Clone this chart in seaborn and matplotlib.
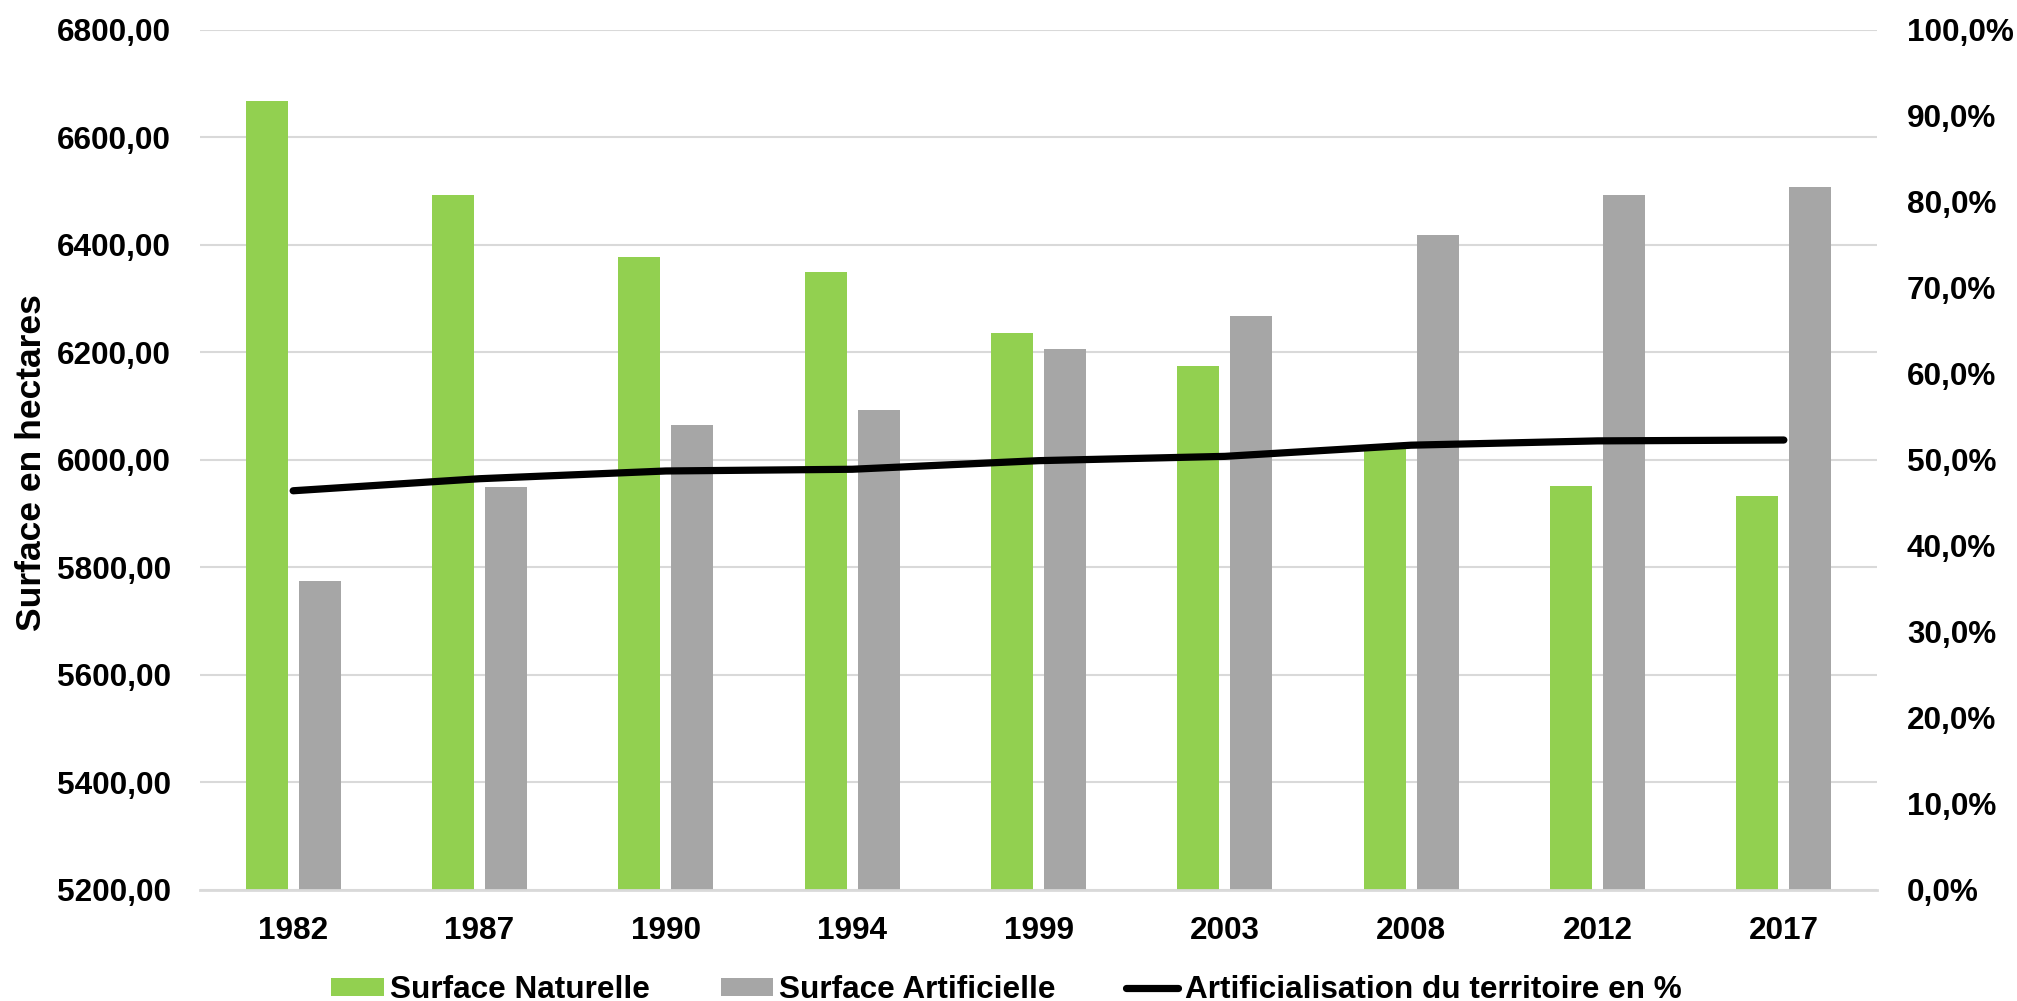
#!/usr/bin/env python3
"""
Surface naturelle / artificielle par année, avec le taux d'artificialisation
"""

import pandas as pd
import numpy as np
import matplotlib
matplotlib.use("Agg")
import matplotlib.pyplot as plt
from matplotlib.ticker import FuncFormatter, MultipleLocator
import seaborn as sns

# Data
years = ['1982', '1987', '1990', '1994', '1999', '2003', '2008', '2012', '2017']
naturelle = [6668, 6492, 6378, 6349, 6236, 6175, 6024, 5951, 5933]
artificielle = [5774, 5949, 6064, 6093, 6206, 6267, 6418, 6492, 6508]
artif_pct = [46.4, 47.8, 48.7, 48.9, 49.9, 50.4, 51.7, 52.2, 52.3]

LABEL_NAT = 'Surface Naturelle'
LABEL_ART = 'Surface Artificielle'
LABEL_PCT = 'Artificialisation du territoire en %'

GREEN = '#92D050'
GREY = '#A6A6A6'
GRID = '#D9D9D9'
FS = 22.7

sns.set_style("white")
plt.rcParams['font.family'] = ['Liberation Sans', 'DejaVu Sans']
plt.rcParams['font.weight'] = 'bold'
plt.rcParams['text.color'] = 'black'
plt.rcParams['xtick.color'] = 'black'
plt.rcParams['ytick.color'] = 'black'
plt.rcParams['axes.labelcolor'] = 'black'

df = pd.DataFrame({
    'year': years * 2,
    'surface': naturelle + artificielle,
    'type': [LABEL_NAT] * len(years) + [LABEL_ART] * len(years),
})

fig = plt.figure(figsize=(20.17, 10.01), dpi=100)
ax = fig.add_axes([0.09916, 0.11109, 0.83143, 0.85914])

sns.barplot(data=df, x='year', y='surface', hue='type',
            palette=[GREEN, GREY], saturation=1, width=0.568, gap=0.208,
            linewidth=0, ax=ax)

# bars start from the bottom of the axis (5200)
ax.set_ylim(5200, 6800)
ax.yaxis.set_major_locator(MultipleLocator(200))
ax.yaxis.set_major_formatter(FuncFormatter(lambda v, p: f"{v:.2f}".replace('.', ',')))
ax.set_xlim(-0.5, len(years) - 0.5)
ax.grid(axis='y', color=GRID, linewidth=1.5)
ax.set_axisbelow(True)
for s in ['top', 'left', 'right']:
    ax.spines[s].set_visible(False)
ax.spines['bottom'].set_color(GRID)
ax.spines['bottom'].set_linewidth(2)
ax.tick_params(axis='both', length=0, labelsize=FS, colors='black')
ax.tick_params(axis='y', pad=21)
ax.tick_params(axis='x', pad=19)
ax.set_xlabel('')
ax.set_ylabel('Surface en hectares', fontsize=25.5, fontweight='bold', color='black')
ax.yaxis.set_label_coords(-0.0905, 0.497)
for lab in ax.get_xticklabels() + ax.get_yticklabels():
    lab.set_fontweight('bold')

# secondary axis with the percentage line
ax2 = ax.twinx()
sns.lineplot(x=np.arange(len(years)), y=artif_pct, color='black', linewidth=5.2,
             solid_capstyle='round', ax=ax2, label=LABEL_PCT)
ax2.set_ylim(0, 100)
ax2.yaxis.set_major_locator(MultipleLocator(10))
ax2.yaxis.set_major_formatter(FuncFormatter(lambda v, p: f"{v:.1f}%".replace('.', ',')))
ax2.tick_params(axis='y', length=0, labelsize=FS, pad=21.5, colors='black')
for lab in ax2.get_yticklabels():
    lab.set_fontweight('bold')
for s in ['top', 'left', 'right', 'bottom']:
    ax2.spines[s].set_visible(False)
ax2.grid(False)

h1, l1 = ax.get_legend_handles_labels()
h2, l2 = ax2.get_legend_handles_labels()
if ax.get_legend():
    ax.get_legend().remove()
if ax2.get_legend():
    ax2.get_legend().remove()

fig.legend(h1 + h2, l1 + l2, loc='center', bbox_to_anchor=(0.499, 0.011),
           ncol=3, frameon=False, prop={'size': FS, 'weight': 'bold'},
           handlelength=1.65, handleheight=0.5, handletextpad=0.2,
           columnspacing=2.25, borderaxespad=0, borderpad=0,
           labelcolor='black')

fig.savefig('out.png', dpi=100)
print("Saved: out.png")
